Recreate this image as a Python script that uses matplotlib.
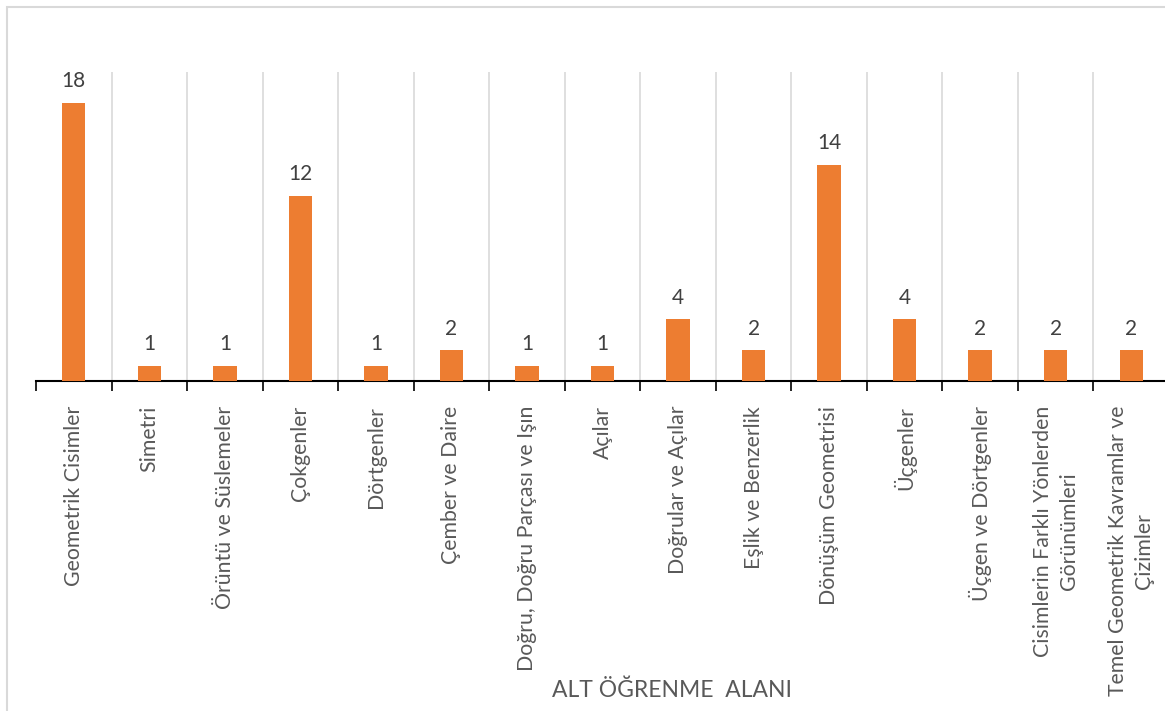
import matplotlib.pyplot as plt
from matplotlib.patches import Rectangle

categories = [
    "Geometrik Cisimler", "Simetri", "Örüntü ve Süslemeler", "Çokgenler",
    "Dörtgenler", "Çember ve Daire", "Doğru, Doğru Parçası ve Işın", "Açılar",
    "Doğrular ve Açılar", "Eşlik ve Benzerlik", "Dönüşüm Geometrisi",
    "Üçgenler", "Üçgen ve Dörtgenler",
    "Cisimlerin Farklı Yönlerden\nGörünümleri",
    "Temel Geometrik Kavramlar ve\nÇizimler",
]
counts = [18, 1, 1, 12, 1, 2, 1, 1, 4, 2, 14, 4, 2, 2, 2]
x_title = "ALT ÖĞRENME  ALANI"

plt.rcParams['font.family'] = ['Lato', 'DejaVu Sans']

W, H = 1165, 711
fig = plt.figure(figsize=(W / 100, H / 100), dpi=100)

# plot area in pixel units, converted to figure fractions
left, right, top, bottom = 36, 1169, 72, 381
ax = fig.add_axes([left / W, 1 - bottom / H, (right - left) / W, (bottom - top) / H])

pos = list(range(len(categories)))
ax.bar(pos, counts, width=0.31, color='#ED7D31', zorder=3)
for p, v in zip(pos, counts):
    ax.text(p, v + 0.75, str(v), ha='center', va='bottom', fontsize=15, color='#404040')

ax.set_xlim(-0.5, len(categories) - 0.5)
ax.set_ylim(0, 20)

# gridlines and ticks sit on category boundaries
bounds = [i - 0.5 for i in range(len(categories) + 1)]
for b in bounds[1:-1]:
    ax.axvline(b, color='#d9d9d9', lw=1.2, zorder=1)
ax.set_xticks(bounds)
ax.set_xticklabels([])
ax.tick_params(axis='x', length=7, width=1.2, color='black', direction='out')
ax.set_xticks(pos, minor=True)
ax.set_xticklabels(categories, minor=True, rotation=90, fontsize=15.3,
                   color='#595959', va='top', ha='center', multialignment='center',
                   linespacing=1.35)
ax.tick_params(axis='x', which='minor', length=0, pad=18)
ax.set_yticks([])

for s in ['top', 'right', 'left']:
    ax.spines[s].set_visible(False)
ax.spines['bottom'].set_linewidth(1.5)
ax.spines['bottom'].set_color('black')

fig.text(672 / W, 1 - 690 / H, x_title, ha='center', va='center',
         fontsize=16.5, color='#595959')

# chart frame
fig.patches.append(Rectangle((7 / W, -0.1), 1.2, 1.1 - 7 / H, transform=fig.transFigure,
                             fill=False, edgecolor='#d9d9d9', lw=1.5))

fig.savefig('out.png', dpi=100)
